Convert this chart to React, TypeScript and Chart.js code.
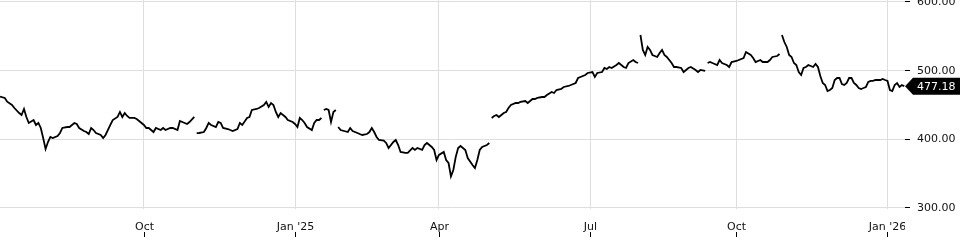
import React, { useEffect, useRef } from 'react';
import { Chart, registerables } from 'chart.js';

Chart.register(...registerables);

// trading-session index (gaps marked with a null close)
const SESSION: number[] = [
  0, 2, 3, 5, 6, 8, 9, 10, 11, 12, 14, 15, 16, 17, 18, 19, 20, 21, 22, 24, 25, 26, 28, 29, 31, 32, 33, 35, 36, 37, 38, 39, 40, 42, 43, 44, 46, 47, 49, 50, 51, 52, 53, 54, 56, 57, 58, 60, 61, 62, 64, 65, 67, 68, 69, 71, 72, 74, 75, 76, 78, 79, 81,
  81.5,
  82, 83, 85, 86, 87, 88, 90, 91, 92, 93, 95, 96, 97, 99, 100, 101, 103, 104, 105, 107, 108, 110, 111, 112, 113, 114, 115, 116, 117, 119, 120, 122, 123, 124, 125, 126, 127, 128, 130, 131, 132, 133, 134,
  134.5,
  135, 136, 137, 138, 139, 140,
  140.5,
  141, 142, 145, 146, 147, 149, 150, 151, 153, 154, 155, 156, 157, 158, 160, 161, 162, 164, 165, 166, 167, 169, 170, 172, 173, 174, 176, 177, 178, 180, 181, 182, 183, 185, 186, 187, 188, 189, 190, 191, 192, 194, 195, 197, 198, 199, 200, 201, 203, 204,
  204.5,
  205, 206, 207, 208, 210, 211, 212, 213, 215, 216, 217, 219, 220, 222, 223, 224, 226, 227, 228, 230, 231, 232, 234, 235, 237, 238, 240, 241, 242, 244, 245, 247, 248, 249, 251, 252, 253, 254, 255, 257, 258, 260, 261, 262, 264, 265, 266,
  266.5,
  267, 268, 269, 270, 271, 272, 274, 275, 276, 277, 278, 280, 281, 282, 284, 285, 287, 288, 290, 291, 292, 294,
  294.5,
  295, 296, 297, 299, 300, 301, 303, 304, 305, 307, 308, 310, 311, 313, 314, 315, 317, 318, 320, 321, 322, 324, 325,
  325.5,
  326, 327, 328, 329, 330, 331, 332, 333, 334, 335, 336, 337, 339, 340, 341, 342, 343, 344, 345, 346, 347, 348, 349, 350, 351, 352, 353, 354, 355, 356, 357, 358, 359, 360, 361, 362, 363, 364, 365, 366, 367, 368, 369, 370, 371, 372, 373, 374, 375, 376, 377,
];

const CLOSE: (number | null)[] = [
  462.1, 460.2, 454.8, 450.0, 445.6, 438.3, 435.4, 444.2, 432.5, 423.8, 428.1, 420.9, 423.8, 416.5, 401.9, 386.0, 396.1, 403.4, 401.9, 404.8, 409.2, 416.5, 417.9, 417.9, 423.8, 422.3, 416.5, 412.1, 410.6, 407.7, 416.5, 413.5, 409.2, 406.3, 401.9, 406.3, 420.9, 428.1, 432.5, 439.8, 432.5, 438.3, 434.0, 431.1, 431.1, 429.6, 426.7, 420.9, 416.5, 416.5, 410.6, 416.5, 413.5, 416.5, 413.5, 416.5, 416.5, 413.5, 426.7, 425.2, 422.3, 425.2, 432.5,
  null,
  409.0, 409.2, 410.6, 416.5, 423.8, 420.9, 417.9, 425.2, 423.8, 416.5, 415.0, 413.5, 412.1, 415.0, 423.8, 420.9, 431.1, 432.5, 442.7, 444.2, 445.6, 450.0, 454.4, 447.1, 452.9, 450.0, 439.8, 432.5, 438.3, 432.5, 428.1, 425.2, 422.3, 417.9, 431.1, 428.1, 423.8, 417.9, 413.5, 423.8, 428.1, 428.1, 431.1,
  null,
  442.7, 444.2, 442.7, 425.2, 439.8, 442.7,
  null,
  417.9, 413.5, 410.6, 416.5, 412.1, 409.2, 407.7, 406.3, 407.7, 410.6, 416.5, 410.6, 403.4, 399.0, 398.0, 394.7, 387.4, 396.1, 399.0, 391.7, 381.6, 380.1, 380.1, 387.4, 384.5, 387.4, 384.5, 391.7, 394.7, 388.8, 384.5, 369.9, 377.2, 381.6, 369.9, 365.5, 346.0, 355.3, 374.3, 387.4, 390.3, 384.5, 372.8, 362.6, 358.2, 369.9, 384.5, 388.8, 391.7, 394.7,
  null,
  431.1, 434.0, 435.4, 432.5, 438.3, 439.8, 445.6, 450.0, 452.9, 452.9, 454.4, 455.8, 452.9, 458.7, 458.7, 460.2, 461.6, 461.6, 464.6, 468.9, 467.5, 471.8, 473.3, 476.2, 477.7, 479.1, 482.0, 489.3, 490.8, 493.7, 496.6, 498.0, 490.8, 496.6, 498.0, 503.9, 502.4, 505.3, 503.9, 508.2, 511.1, 505.3, 503.9, 511.1, 515.5, 512.6, 511.1,
  null,
  551.9, 530.1, 522.8, 534.5, 530.1, 522.8, 519.9, 525.7, 530.1, 522.8, 519.9, 511.1, 505.3, 505.3, 503.9, 498.0, 503.9, 505.3, 501.0, 498.0, 501.0, 499.5,
  null,
  511.1, 512.6, 511.1, 508.2, 515.5, 511.1, 508.2, 505.3, 512.6, 514.1, 515.5, 518.4, 527.2, 522.8, 518.4, 512.6, 515.5, 512.6, 512.6, 515.5, 519.9, 521.3, 524.3,
  null,
  551.9, 541.7, 534.5, 522.8, 519.9, 511.1, 508.2, 498.0, 493.7, 503.9, 505.3, 508.2, 505.3, 509.7, 505.3, 492.2, 482.0, 479.1, 470.4, 471.8, 474.7, 486.4, 489.3, 489.3, 480.6, 479.1, 482.0, 489.3, 489.3, 482.0, 479.1, 474.7, 473.3, 474.7, 476.2, 483.5, 485.0, 485.0, 486.4, 486.4, 486.4, 487.9, 486.4, 485.0, 471.8, 470.4, 479.1, 482.0, 476.2, 479.1, 477.18,
];

const X_TICK_SESSION = [60, 123, 183, 246, 307, 370];
const X_TICK_LABEL = ['Oct', "Jan '25", 'Apr', 'Jul', 'Oct', "Jan '26"];
const Y_TICKS = [300, 400, 500, 600];

const FONT = '"DejaVu Sans", sans-serif';

const overlay = {
  id: 'overlay',
  afterDraw(chart: any) {
    const { ctx, chartArea, scales } = chart;
    const xs = scales.x;
    const ys = scales.y;
    ctx.save();
    ctx.beginPath();
    ctx.rect(0, 0, chartArea.right, chart.height);
    ctx.clip();
    ctx.font = `11px ${FONT}`;
    ctx.fillStyle = '#111';
    ctx.strokeStyle = '#000';
    ctx.lineWidth = 1;
    ctx.textAlign = 'center';
    ctx.textBaseline = 'middle';
    X_TICK_SESSION.forEach((v, i) => {
      const px = Math.round(xs.getPixelForValue(v)) + 0.5;
      ctx.fillText(X_TICK_LABEL[i], px, chartArea.bottom + 18);
      ctx.beginPath();
      ctx.moveTo(px, chartArea.bottom + 23);
      ctx.lineTo(px, chartArea.bottom + 28);
      ctx.stroke();
    });
    ctx.restore();

    const last = CLOSE[CLOSE.length - 1] as number;
    const py = ys.getPixelForValue(last);
    const x0 = chartArea.right;
    ctx.save();
    ctx.fillStyle = '#000';
    ctx.beginPath();
    ctx.moveTo(x0, py);
    ctx.lineTo(x0 + 8, py - 8.5);
    ctx.lineTo(chart.width, py - 8.5);
    ctx.lineTo(chart.width, py + 8.5);
    ctx.lineTo(x0 + 8, py + 8.5);
    ctx.closePath();
    ctx.fill();
    ctx.fillStyle = '#fff';
    ctx.font = `11px ${FONT}`;
    ctx.textAlign = 'left';
    ctx.textBaseline = 'middle';
    ctx.fillText(last.toFixed(2), x0 + 12, py + 0.5);
    ctx.restore();
  },
};

export default function App() {
  const ref = useRef<HTMLCanvasElement | null>(null);

  useEffect(() => {
    if (!ref.current) return;
    Chart.defaults.font.family = FONT;
    Chart.defaults.font.size = 11;
    const data = SESSION.map((s, i) => ({ x: s, y: CLOSE[i] }));
    const chart = new Chart(ref.current, {
      type: 'line',
      data: {
        datasets: [
          {
            data: data as any,
            borderColor: '#000',
            borderWidth: 1.8,
            pointRadius: 0,
            tension: 0,
            spanGaps: false,
          },
        ],
      },
      options: {
        animation: false,
        responsive: false,
        maintainAspectRatio: false,
        layout: { padding: 0 },
        plugins: { legend: { display: false }, tooltip: { enabled: false } },
        scales: {
          x: {
            type: 'linear',
            min: 0,
            max: 377.3,
            grid: { color: '#dedede', drawTicks: false },
            border: { display: false },
            ticks: { display: false },
            afterBuildTicks: (s: any) => {
              s.ticks = X_TICK_SESSION.map((v) => ({ value: v }));
            },
            afterFit: (s: any) => {
              s.height = 31;
              s.paddingLeft = 0;
              s.paddingRight = 0;
            },
          },
          y: {
            type: 'linear',
            position: 'right',
            min: 298.5,
            max: 602.9,
            grid: { color: '#dedede', tickColor: '#000', tickLength: 5 },
            border: { display: false },
            ticks: {
              padding: 7,
              color: '#111',
              font: { size: 11, family: FONT },
              callback: (v: any) => Number(v).toFixed(2),
            },
            afterBuildTicks: (s: any) => {
              s.ticks = Y_TICKS.map((v) => ({ value: v }));
            },
            afterFit: (s: any) => {
              s.width = 55;
              s.paddingTop = 0;
              s.paddingBottom = 0;
            },
          },
        },
      },
      plugins: [overlay],
    });
    return () => chart.destroy();
  }, []);

  return (
    <div style={{ position: 'absolute', left: 0, top: 0, width: 960, height: 240 }}>
      <canvas ref={ref} width={960} height={240} style={{ display: 'block', width: 960, height: 240 }} />
    </div>
  );
}
